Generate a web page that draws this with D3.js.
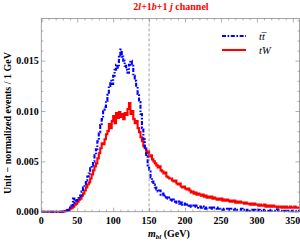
<!DOCTYPE html>
<html><head><meta charset="utf-8">
<script src="https://cdn.jsdelivr.net/npm/d3@7"></script>
<style>
html,body{margin:0;padding:0;background:#fff;}
svg{display:block;}
text{font-family:"Liberation Serif","DejaVu Serif",serif;}
</style></head>
<body>
<svg id="c" width="300" height="242"></svg>
<script>
// bin lower edges: 0,2,4,...,358 GeV (2 GeV steps)
const binWidth = 2;
const ttbar = [
0,0,0,0,0,0,0,0,0,0,
0,0,0,0,0,0.00002,0.00005,0.0001,0.00015,0.0002,
0.0004,0.0006,0.0013,0.0009,0.0011,0.0013,0.0015,0.0016,0.0020,0.0024,
0.0027,0.0031,0.0035,0.0038,0.0043,0.0046,0.0050,0.0056,0.0062,0.0070,
0.0079,0.0086,0.0092,0.0101,0.0104,0.0110,0.0116,0.0125,0.0130,0.0127,
0.0135,0.0141,0.0146,0.0143,0.0155,0.0161,0.0154,0.0150,0.0145,0.0141,
0.0138,0.0146,0.0150,0.0147,0.0135,0.0130,0.0124,0.0117,0.0109,0.0097,
0.0083,0.0072,0.0062,0.0055,0.0046,0.0040,0.0034,0.0030,0.0027,0.0024,
0.0022,0.0020,0.0021,0.0017,0.0018,0.0015,0.0016,0.0014,0.0013,0.0014,
0.0012,0.0011,0.0012,0.0010,0.0009,0.0010,0.0008,0.0009,0.0007,0.0008,
0.0007,0.0006,0.0007,0.0006,0.0005,0.0006,0.0005,0.0006,0.0004,0.0005,
0.0005,0.0004,0.0005,0.0004,0.0003,0.0004,0.0004,0.0003,0.0004,0.0003,
0.0004,0.0003,0.0003,0.0004,0.0003,0.0003,0.0002,0.0003,0.0003,0.0002,
0.0003,0.0002,0.0003,0.0002,0.0002,0.0003,0.0002,0.0002,0.0002,0.0003,
0.0002,0.0002,0.0001,0.0002,0.0002,0.0001,0.0002,0.0002,0.0001,0.0002,
0.0001,0.0002,0.0001,0.0001,0.0002,0.0001,0.0001,0.0001,0.0002,0.0001,
0.0001,0.0001,0.0001,0.0001,0.0002,0.0001,0.0001,0.0001,0.00005,0.0001,
0.0001,0.00005,0.0001,0.0001,0.00005,0.0001,0.0001,0.00005,0.0001,0.0001
];
const tW = [
0,0,0,0,0,0,0,0,0,0,
0,0,0,0,0,0.00003,0.00005,0.0001,0.00015,0.0002,
0.0003,0.0004,0.0005,0.0007,0.0008,0.0010,0.0012,0.0013,0.0016,0.0018,
0.0021,0.0024,0.0027,0.0029,0.0033,0.0037,0.0041,0.0045,0.0048,0.0053,
0.0058,0.0063,0.0068,0.0067,0.0072,0.0077,0.0080,0.0087,0.0083,0.0090,
0.0095,0.0088,0.0098,0.0093,0.0099,0.0094,0.0097,0.0092,0.0098,0.0096,
0.0102,0.0108,0.0097,0.0100,0.0092,0.0088,0.0090,0.0083,0.0079,0.0074,
0.0070,0.0065,0.0063,0.0058,0.0060,0.0055,0.0056,0.0052,0.0050,0.0048,
0.0046,0.0044,0.0045,0.0041,0.0040,0.0038,0.0039,0.0035,0.0034,0.0033,
0.0033,0.0031,0.0030,0.0031,0.0028,0.0027,0.0028,0.0025,0.0024,0.0025,
0.0023,0.0022,0.0023,0.0021,0.0019,0.0020,0.0018,0.0019,0.0017,0.0018,
0.0017,0.0016,0.0017,0.0015,0.0016,0.0014,0.0015,0.0014,0.0015,0.0013,
0.0014,0.0013,0.0012,0.0013,0.0012,0.0013,0.0011,0.0012,0.0011,0.0012,
0.0011,0.0010,0.0011,0.0010,0.0011,0.0009,0.0010,0.0009,0.0010,0.0009,
0.0009,0.0008,0.0009,0.0008,0.0008,0.0007,0.0008,0.0007,0.0008,0.0007,
0.0007,0.0006,0.0007,0.0006,0.0006,0.0007,0.0005,0.0006,0.0005,0.0006,
0.0005,0.0006,0.0005,0.0005,0.0004,0.0005,0.0005,0.0004,0.0005,0.0004,
0.0005,0.0004,0.0004,0.0005,0.0004,0.0004,0.0005,0.0004,0.0004,0.0004
];
const xTicks = [0,50,100,150,200,250,300,350];
const yTicks = [0,0.005,0.010,0.015];
const yTickLabels = ["0.000","0.005","0.010","0.015"];
const cutValue = 150;

const L = 41.3, R = 300, T = 18.4, B = 211.7;
const svg = d3.select("#c");
const x = d3.scaleLinear().domain([0,360]).range([L,R]);
const y = d3.scaleLinear().domain([0,0.0192]).range([B,T]);
const frameColor = "#8c8c8c";

// curves
function pts(arr){
  const p = arr.map((v,i)=>[i*binWidth, v]);
  p.push([arr.length*binWidth, arr[arr.length-1]]);
  return p;
}
const line = d3.line().x(d=>x(d[0])).y(d=>y(d[1])).curve(d3.curveStepAfter);
const clip = svg.append("clipPath").attr("id","pc").append("rect")
  .attr("x",L).attr("y",T).attr("width",R-L).attr("height",B-T+2);
const g = svg.append("g").attr("clip-path","url(#pc)");
g.append("path").attr("d", line(pts(tW))).attr("fill","none")
  .attr("stroke","#ff0000").attr("stroke-width",2.1);
g.append("path").attr("d", line(pts(ttbar))).attr("fill","none")
  .attr("stroke","#0000ff").attr("stroke-width",2.1)
  .attr("stroke-dasharray","4,1.6,1.6,1.6");

// cut line
svg.append("line").attr("x1",x(cutValue)).attr("x2",x(cutValue))
  .attr("y1",T).attr("y2",B).attr("stroke","#999").attr("stroke-width",0.9)
  .attr("stroke-dasharray","3,2");

// frame
svg.append("rect").attr("x",L).attr("y",T).attr("width",R-L-0.5).attr("height",B-T)
  .attr("fill","none").attr("stroke",frameColor).attr("stroke-width",0.8);

// axes with inward ticks
const xMinor = d3.range(0,361,10).filter(v=>v%50!==0);
const yMinor = d3.range(0,0.0192,0.001).filter((v,i)=>i%5!==0);
function tickSet(axisGen, tr, len, cls){
  svg.append("g").attr("transform",tr).attr("class",cls).call(axisGen.tickSizeInner(len).tickSizeOuter(0).tickFormat(""))
    .call(s=>{s.select(".domain").remove(); s.selectAll("line").attr("stroke",frameColor).attr("stroke-width",0.7);});
}
tickSet(d3.axisTop(x).tickValues(xTicks), `translate(0,${B})`, 4, "xb");
tickSet(d3.axisTop(x).tickValues(xMinor), `translate(0,${B})`, 2, "xbm");
tickSet(d3.axisBottom(x).tickValues(xTicks), `translate(0,${T})`, 4, "xt");
tickSet(d3.axisBottom(x).tickValues(xMinor), `translate(0,${T})`, 2, "xtm");
tickSet(d3.axisRight(y).tickValues(yTicks), `translate(${L},0)`, 4, "yl");
tickSet(d3.axisRight(y).tickValues(yMinor), `translate(${L},0)`, 2, "ylm");
tickSet(d3.axisLeft(y).tickValues(yTicks), `translate(${R-0.5},0)`, 4, "yr");
tickSet(d3.axisLeft(y).tickValues(yMinor), `translate(${R-0.5},0)`, 2, "yrm");

// tick labels
svg.append("g").selectAll("text").data(xTicks).join("text")
  .attr("x",d=>x(d)).attr("y",B+12.5).attr("text-anchor","middle")
  .attr("font-size",10).attr("font-weight","bold").text(d=>d);
svg.append("g").selectAll("text").data(yTicks).join("text")
  .attr("x",L-2.5).attr("y",d=>y(d)+3.5).attr("text-anchor","end")
  .attr("font-size",10).attr("font-weight","bold").text((d,i)=>yTickLabels[i]);

// axis titles
const xl = svg.append("text").attr("x",148).attr("y",237).attr("font-size",10).attr("font-weight","bold");
xl.append("tspan").attr("font-style","italic").text("m");
xl.append("tspan").attr("font-style","italic").attr("font-size",7).attr("dy",2).text("bl");
xl.append("tspan").attr("dy",-2).text(" (GeV)");

svg.append("text").attr("transform","translate(11,123) rotate(-90)")
  .attr("text-anchor","middle").attr("font-size",10).attr("font-weight","bold")
  .text("Unit \u2212 normalized events / 1 GeV");

// title
const tt = svg.append("text").attr("x",171).attr("y",9.5).attr("text-anchor","middle")
  .attr("font-size",10).attr("font-weight","bold").attr("fill","#ff0000");
tt.append("tspan").text("2");
tt.append("tspan").attr("font-style","italic").text("l");
tt.append("tspan").text("+1");
tt.append("tspan").attr("font-style","italic").text("b");
tt.append("tspan").text("+1 ");
tt.append("tspan").attr("font-style","italic").text("j");
tt.append("tspan").text(" channel");

// legend
const legend = [
  {label:"t\u0074\u0305", color:"#0000ff", dash:"4,1.6,1.6,1.6", y:36},
  {label:"tW", color:"#ff0000", dash:null, y:50}
];
legend.forEach(d=>{
  svg.append("line").attr("x1",222).attr("x2",246).attr("y1",d.y).attr("y2",d.y)
    .attr("stroke",d.color).attr("stroke-width",2.1).attr("stroke-dasharray",d.dash);
  svg.append("text").attr("x",259).attr("y",d.y+3.5).attr("font-size",10.5)
    .attr("font-style","italic").text(d.label);
});
</script>
</body></html>
